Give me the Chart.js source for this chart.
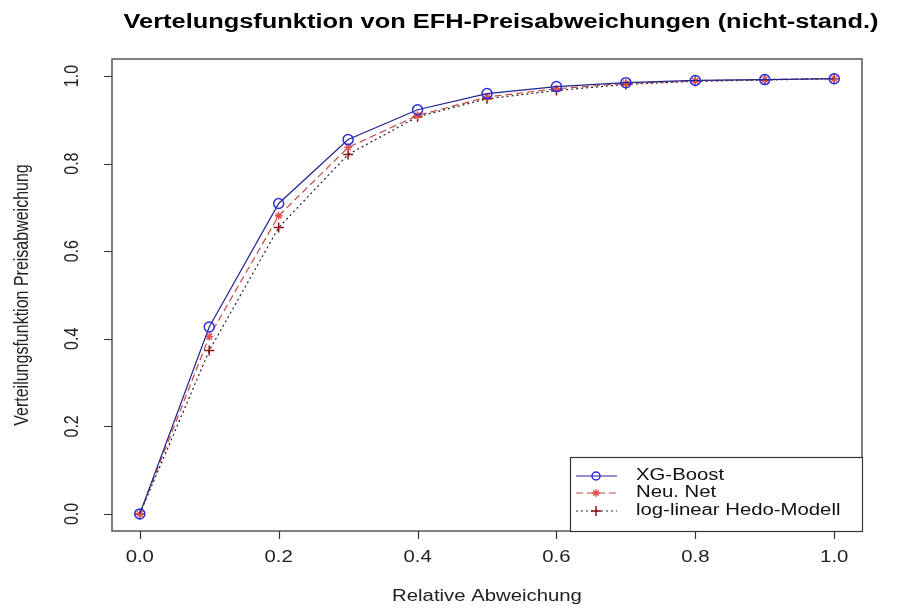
<!DOCTYPE html>
<html>
<head>
<meta charset="utf-8">
<script src="https://cdn.jsdelivr.net/npm/chart.js@4/dist/chart.umd.min.js"></script>
<style>
  html, body { margin: 0; padding: 0; background: #fff; }
  canvas { display: block; }
</style>
</head>
<body>
<canvas id="cdf" width="901" height="608"></canvas>
<script>
// values
var abweichung = [0.0, 0.1, 0.2, 0.3, 0.4, 0.5, 0.6, 0.7, 0.8, 0.9, 1.0];
var xgBoost = [0.0, 0.427, 0.709, 0.855, 0.923, 0.960, 0.976, 0.985, 0.990, 0.992, 0.994];
var neuNet = [0.0, 0.405, 0.681, 0.837, 0.910, 0.952, 0.971, 0.983, 0.989, 0.992, 0.994];
var logLinear = [0.0, 0.373, 0.654, 0.821, 0.907, 0.948, 0.967, 0.981, 0.988, 0.991, 0.994];

var xTicks = [0.0, 0.2, 0.4, 0.6, 0.8, 1.0];
var yTicks = [0.0, 0.2, 0.4, 0.6, 0.8, 1.0];
var tickLabels = ['0.0', '0.2', '0.4', '0.6', '0.8', '1.0'];
var seriesNames = ['XG-Boost', 'Neu. Net', 'log-linear Hedo-Modell'];

function pairs(vals) {
  return abweichung.map(function (x, i) {
    return { x: x, y: vals[i] };
  });
}

var FONT = '"Liberation Sans", Arial, sans-serif';
var STRETCH = 1.27; // the reference picture is stretched horizontally

function txt(ctx, s, x, y, size, bold, rot, align) {
  ctx.save();
  ctx.translate(x, y);
  ctx.scale(STRETCH, 1);
  if (rot) ctx.rotate(-Math.PI / 2);
  ctx.font = (bold ? 'bold ' : '') + size + 'px ' + FONT;
  ctx.textAlign = align || 'center';
  ctx.textBaseline = 'middle';
  ctx.fillText(s, 0, 0);
  ctx.restore();
}

var rFrame = {
  id: 'rFrame',
  afterDraw: function (chart) {
    var ctx = chart.ctx;
    var a = chart.chartArea;
    var sx = chart.scales.x, sy = chart.scales.y;

    ctx.save();
    // box
    ctx.strokeStyle = '#555';
    ctx.lineWidth = 1.5;
    ctx.strokeRect(a.left, a.top, a.right - a.left, a.bottom - a.top);

    // ticks
    ctx.strokeStyle = '#333';
    ctx.lineWidth = 1.2;
    ctx.beginPath();
    xTicks.forEach(function (v) {
      var px = Math.round(sx.getPixelForValue(v)) + 0.5;
      ctx.moveTo(px, a.bottom);
      ctx.lineTo(px, a.bottom + 8);
    });
    yTicks.forEach(function (v) {
      var py = Math.round(sy.getPixelForValue(v)) + 0.5;
      ctx.moveTo(a.left, py);
      ctx.lineTo(a.left - 8, py);
    });
    ctx.stroke();

    // tick labels
    ctx.fillStyle = '#222';
    xTicks.forEach(function (v, i) {
      txt(ctx, tickLabels[i], sx.getPixelForValue(v), 558, 16, false, false);
    });
    yTicks.forEach(function (v, i) {
      txt(ctx, tickLabels[i], 72, sy.getPixelForValue(v), 16, false, true);
    });

    // axis titles and main title
    txt(ctx, 'Relative Abweichung', (a.left + a.right) / 2, 597, 16, false, false);
    txt(ctx, 'Verteilungsfunktion Preisabweichung', 22, (a.top + a.bottom) / 2, 16, false, true);
    ctx.fillStyle = '#000';
    txt(ctx, 'Vertelungsfunktion von EFH-Preisabweichungen (nicht-stand.)', 501, 22, 20, true, false);

    // legend, bottom right like R
    var lx = 570, ly = 457;
    ctx.fillStyle = '#fff';
    ctx.fillRect(lx, ly, a.right - lx, a.bottom - ly);
    ctx.strokeStyle = '#333';
    ctx.lineWidth = 1.2;
    ctx.strokeRect(lx + 0.5, ly + 0.5, a.right - lx, a.bottom - ly);
    var rows = [476, 493, 511];
    chart.data.datasets.forEach(function (ds, i) {
      var y = rows[i];
      ctx.save();
      ctx.strokeStyle = ds.borderColor;
      ctx.lineWidth = 1;
      ctx.setLineDash(ds.borderDash || []);
      ctx.beginPath();
      ctx.moveTo(576, y);
      ctx.lineTo(617, y);
      ctx.stroke();
      ctx.restore();

      ctx.save();
      ctx.strokeStyle = ds.pointBorderColor;
      ctx.fillStyle = 'rgba(0,0,0,0)';
      ctx.lineWidth = ds.pointBorderWidth;
      Chart.helpers.drawPoint(ctx, {
        pointStyle: ds.pointStyle,
        radius: ds.pointStyle === 'circle' ? 4 : ds.pointRadius,
        borderWidth: ds.pointBorderWidth,
        rotation: 0
      }, 596, y);
      ctx.restore();

      ctx.fillStyle = '#111';
      txt(ctx, seriesNames[i], 636, y, 16, false, false, 'left');
    });
    ctx.restore();
  }
};

new Chart(document.getElementById('cdf'), {
  type: 'scatter',
  data: {
    datasets: [
      {
        label: seriesNames[0],
        data: pairs(xgBoost),
        showLine: true,
        borderColor: '#23238f',
        borderWidth: 1.2,
        pointStyle: 'circle',
        pointRadius: 5,
        pointBorderWidth: 1.5,
        pointBorderColor: '#2a2ae0',
        pointBackgroundColor: 'rgba(0,0,0,0)'
      },
      {
        label: seriesNames[1],
        data: pairs(neuNet),
        showLine: true,
        borderColor: '#c24a43',
        borderWidth: 1.2,
        borderDash: [7, 4],
        pointStyle: 'star',
        pointRadius: 4,
        pointBorderWidth: 1.3,
        pointBorderColor: '#e0524f',
        pointBackgroundColor: 'rgba(0,0,0,0)'
      },
      {
        label: seriesNames[2],
        data: pairs(logLinear),
        showLine: true,
        borderColor: '#222',
        borderWidth: 1.2,
        borderDash: [2, 3],
        pointStyle: 'cross',
        pointRadius: 5,
        pointBorderWidth: 1.5,
        pointBorderColor: '#8b1010',
        pointBackgroundColor: 'rgba(0,0,0,0)'
      }
    ]
  },
  options: {
    responsive: false,
    animation: false,
    events: [],
    layout: { padding: { left: 112, right: 39, top: 59, bottom: 77 } },
    plugins: { legend: { display: false }, tooltip: { enabled: false } },
    scales: {
      x: { type: 'linear', display: false, min: -0.04, max: 1.04 },
      y: { type: 'linear', display: false, min: -0.039, max: 1.039 }
    }
  },
  plugins: [rFrame]
});
</script>
</body>
</html>
